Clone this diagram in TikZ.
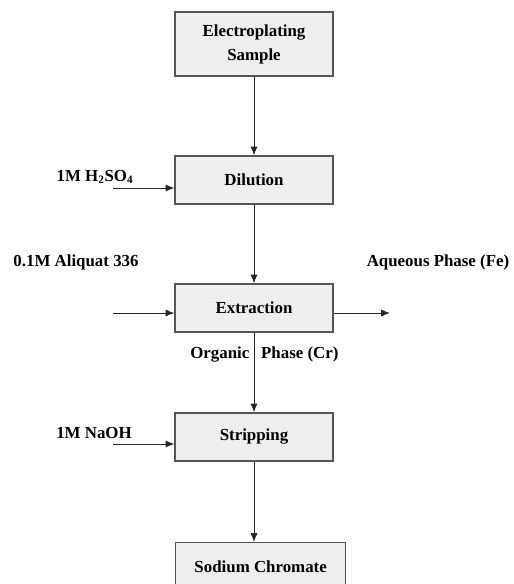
\documentclass[tikz,border=0pt]{standalone}
\usepackage{fontspec}
\setmainfont{Liberation Serif}
\usetikzlibrary{arrows.meta,positioning}
\definecolor{boxfill}{HTML}{EEEEEE}
\definecolor{boxline}{HTML}{555555}

\begin{document}
\begin{tikzpicture}[x=0.025cm, y=-0.025cm,
  stage/.style={rectangle, draw=boxline, line width=0.9pt, fill=boxfill, minimum width=3.95cm, minimum height=1.2cm, align=center, font=\fontsize{12}{17}\selectfont\bfseries, inner sep=2pt},
  feed/.style={font=\fontsize{12}{15}\selectfont\bfseries, inner sep=0pt},
  arr/.style={-{Latex[length=2.2mm,width=1.8mm]}, line width=0.7pt, black!85}
]
  \useasboundingbox (0,0) rectangle (513,584);
  \clip (0,0) rectangle (513,584);

  \node[stage, minimum height=1.6cm] (sample) at (254,44) {Electroplating\\Sample};
  \node[stage] (dilution) at (254,180) {Dilution};
  \node[stage] (extraction) at (254,308) {Extraction};
  \node[stage] (stripping) at (254,437) {Stripping};
  \node[stage, minimum width=4.25cm, anchor=north west] (chromate) at (175,542) {Sodium Chromate};

  \draw[arr] (sample) -- (dilution);
  \draw[arr] (dilution) -- (extraction);
  \draw[arr] (extraction) -- (stripping);
  \draw[arr] (stripping.south) -- (stripping.south |- chromate.north);

  % feeds and outlet
  \coordinate (acidin) at (113,188);
  \coordinate (aliquatin) at (113,313);
  \coordinate (aqout) at (390,313);
  \coordinate (basein) at (113,444);

  \node[feed] (acid) at (95,177) {1M H\textsubscript{2}SO\textsubscript{4}};
  \node[feed] (aliquat) at (76,262) {0.1M Aliquat 336};
  \node[feed] (aqueous) at (438,262) {Aqueous Phase (Fe)};
  \node[feed] (base) at (94,433) {1M NaOH};
  \node[feed, anchor=west] (organic) at (190,355) {Organic\hspace{0.7em}Phase (Cr)};

  \draw[arr] (acidin) -- (acidin -| dilution.west);
  \draw[arr] (aliquatin) -- (aliquatin -| extraction.west);
  \draw[arr] (extraction.east |- aqout) -- (aqout);
  \draw[arr] (basein) -- (basein -| stripping.west);
\end{tikzpicture}
\end{document}
